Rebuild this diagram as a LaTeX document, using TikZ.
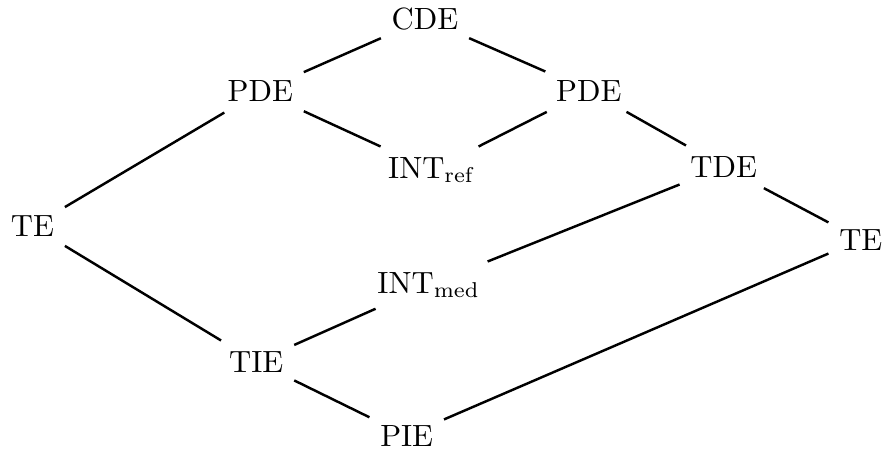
\documentclass[tikz,border=0pt]{standalone}
\begin{document}
\begin{tikzpicture}[x=0.3257pt,y=-0.3257pt,
  lbl/.style={anchor=base},
  edge/.style={thick}]
\useasboundingbox (0,0) rectangle (886,452);
\node[lbl] (cde)  at (425,29.3)   {CDE};
\node[lbl] (pdeL) at (260.3,101.7) {PDE};
\node[lbl] (pdeR) at (588.8,101)  {PDE};
\node[lbl] (intr) at (432,178.3)  {INT$_{\mathrm{ref}}$};
\node[lbl] (tde)  at (723.7,177.3) {TDE};
\node[lbl] (teL)  at (32.5,236.7) {TE};
\node[lbl] (teR)  at (860.8,250)  {TE};
\node[lbl] (intm) at (428.7,293.3) {INT$_{\mathrm{med}}$};
\node[lbl] (tie)  at (256.3,372.3) {TIE};
\node[lbl] (pie)  at (406.7,446)  {PIE};
\draw[edge] (cde) -- (pdeL);
\draw[edge] (cde) -- (pdeR);
\draw[edge] (pdeL) -- (intr);
\draw[edge] (pdeR) -- (intr);
\draw[edge] (pdeR) -- (tde);
\draw[edge] (pdeL) -- (teL);
\draw[edge] (tde) -- (teR);
\draw[edge] (tde) -- (intm);
\draw[edge] (teL) -- (tie);
\draw[edge] (intm) -- (tie);
\draw[edge] (tie) -- (pie);
\draw[edge] (pie) -- (teR);
\end{tikzpicture}
\end{document}
